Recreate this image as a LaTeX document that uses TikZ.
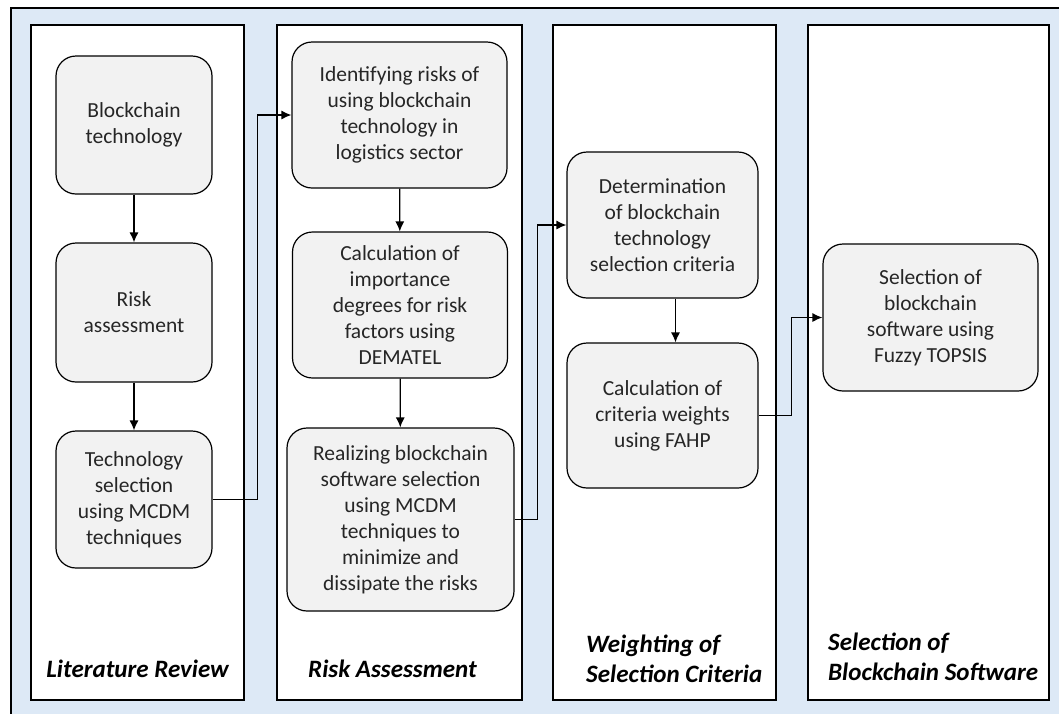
\documentclass[tikz,border=0pt]{standalone}
\usepackage{fontspec}
\setmainfont{Carlito}
\usepackage{tikz}
\usetikzlibrary{arrows.meta}

\definecolor{bgblue}{RGB}{221,233,246}
\definecolor{boxgray}{RGB}{242,242,242}

\begin{document}
\begin{tikzpicture}[x=1pt,y=-1pt,
  panel/.style={draw,line width=1.3pt,fill=white,inner sep=0pt},
  stepbox/.style={draw,line width=1.2pt,fill=boxgray,rounded corners=20pt,align=center,inner sep=0pt,
    font=\fontsize{21.5}{26}\selectfont,text=black!85},
  title/.style={inner sep=0pt,align=left,font=\fontsize{25}{30}\selectfont\bfseries\itshape},
  link/.style={-{Latex[length=10pt,width=9pt]},line width=1.2pt}]

\useasboundingbox (0,0) rectangle (1059,713);
\clip (0,0) rectangle (1059,713);
\fill[bgblue] (11,8) rectangle (1075,730);
\draw[line width=1.3pt] (11,8) rectangle (1075,730);

% columns
\node [panel,minimum width=213pt,minimum height=675pt] (p1) at (137.5,362.5) {};
\node [panel,minimum width=245pt,minimum height=675pt] (p2) at (399.5,362.5) {};
\node [panel,minimum width=223pt,minimum height=675pt] (p3) at (664.5,362.5) {};
\node [panel,minimum width=241pt,minimum height=675pt] (p4) at (928.5,362.5) {};

\node [title,anchor=base] (t1) at (137.5,677) {Literature Review};
\node [title,anchor=base west] (t2) at (308,677) {Risk Assessment};
\node [title,anchor=base west] (t3) at (586,682) {Weighting of\\Selection Criteria};
\node [title,anchor=base west] (t4) at (828,680) {Selection of\\Blockchain Software};

% steps
\node [stepbox,minimum width=156pt,minimum height=138pt] (b1) at (134,125) {Blockchain\\technology};
\node [stepbox,minimum width=156pt,minimum height=139pt] (b2) at (134,312.5) {Risk\\assessment};
\node [stepbox,minimum width=156pt,minimum height=137pt] (b3) at (134,499.5) {Technology\\selection\\using MCDM\\techniques};

\node [stepbox,minimum width=215pt,minimum height=146pt] (b4) at (399.5,115) {Identifying risks of\\using blockchain\\technology in\\logistics sector};
\node [stepbox,minimum width=215pt,minimum height=146pt] (b5) at (400,305) {Calculation of\\importance\\degrees for risk\\factors using\\DEMATEL};
\node [stepbox,minimum width=227pt,minimum height=183pt] (b6) at (400.5,519.5) {Realizing blockchain\\software selection\\using MCDM\\techniques to\\minimize and\\dissipate the risks};

\node [stepbox,minimum width=191pt,minimum height=146pt] (b7) at (662.5,225) {Determination\\of blockchain\\technology\\selection criteria};
\node [stepbox,minimum width=191pt,minimum height=145pt] (b8) at (662.5,415.5) {Calculation of\\criteria weights\\using FAHP};

\node [stepbox,minimum width=215pt,minimum height=147pt] (b9) at (930.5,317.5) {Selection of\\blockchain\\software using\\Fuzzy TOPSIS};

\draw [link] (b1) -- (b2);
\draw [link] (b2) -- (b3);
\draw [link] (b4) -- (b5);
\draw [link] (b5) -- (b6);
\draw [link] ([xshift=13pt]b7.south) -- ([xshift=13pt]b8.north);

\draw [link] (b3.east) -- ++(45,0) |- (b4.west);
\draw [link] (b6.east) -- ++(23,0) |- (b7.west);
\draw [link] (b8.east) -- ++(33,0) |- (b9.west);
\end{tikzpicture}
\end{document}
